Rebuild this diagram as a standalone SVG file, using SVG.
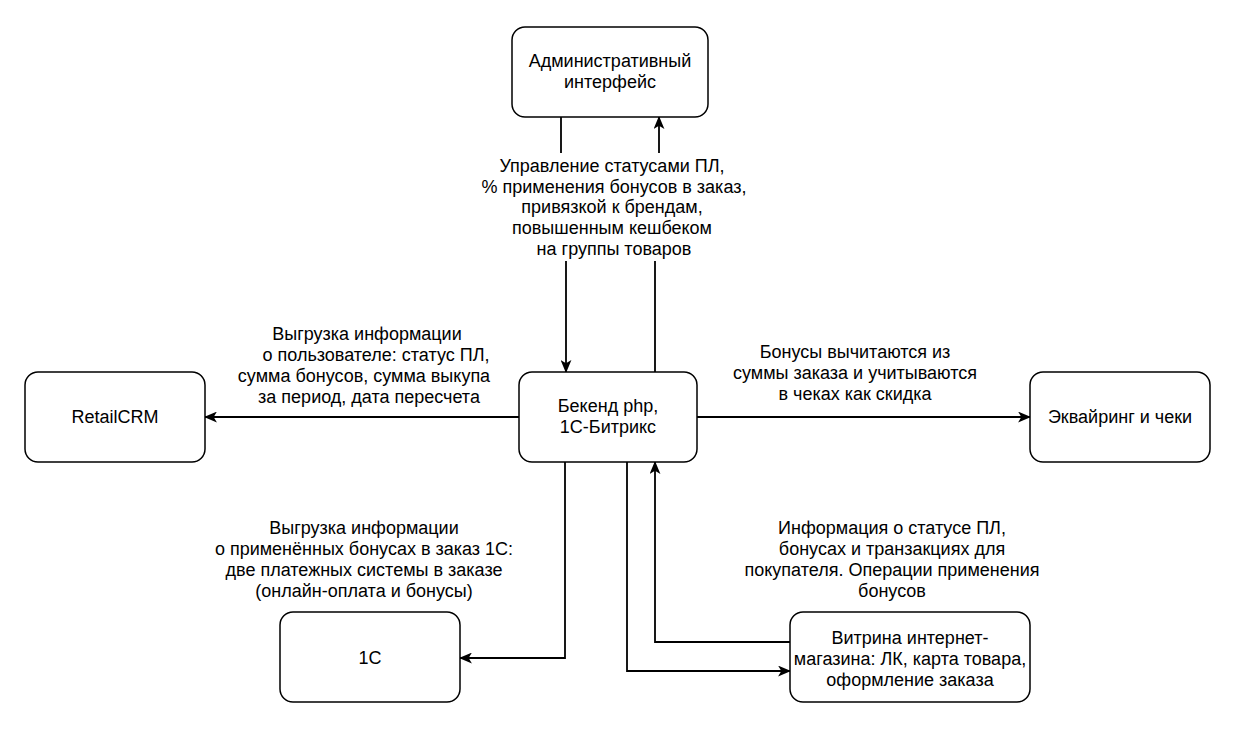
<svg xmlns="http://www.w3.org/2000/svg" width="1250" height="740" viewBox="0 0 1250 740">
<style>
.node{fill:#fff;stroke:#000;stroke-width:1.5}
.t{font-family:"Liberation Sans",Arial,sans-serif;font-size:18px;fill:#000;text-anchor:middle;dominant-baseline:central}
.e{fill:none;stroke:#000;stroke-width:1.8}
</style>
<defs>
<marker id="arr" viewBox="0 0 12 10" refX="11" refY="5" markerWidth="13" markerHeight="11" markerUnits="userSpaceOnUse" orient="auto">
<path d="M0,0 L12,5 L0,10 L3,5 Z" fill="#000"/>
</marker>
</defs>
<rect width="1250" height="740" fill="#fff"/>
<g id="connectors">
<path class="e" d="M561,117 V205 H566 V372" marker-end="url(#arr)"/>
<path class="e" d="M655,372 V205 H659 V117" marker-end="url(#arr)"/>
<path class="e" d="M519,417 H205" marker-end="url(#arr)"/>
<path class="e" d="M697,417 H1030" marker-end="url(#arr)"/>
<path class="e" d="M565,462 V658 H460" marker-end="url(#arr)"/>
<path class="e" d="M627,462 V671 H790" marker-end="url(#arr)"/>
<path class="e" d="M790,642 H655 V462" marker-end="url(#arr)"/>
<g id="label-admin">
<rect x="480" y="153" width="272" height="108" fill="#fff"/>
<text class="t" x="612" y="166">Управление статусами ПЛ,</text>
<text class="t" x="614" y="187">% применения бонусов в заказ,</text>
<text class="t" x="612" y="207">привязкой к брендам,</text>
<text class="t" x="612" y="228">повышенным кешбеком</text>
<text class="t" x="614" y="249">на группы товаров</text>
</g>
<g id="label-crm">
<text class="t" x="367" y="334">Выгрузка информации</text>
<text class="t" x="376" y="355">о пользователе: статус ПЛ,</text>
<text class="t" x="364" y="376">сумма бонусов, сумма выкупа</text>
<text class="t" x="369" y="397">за период, дата пересчета</text>
</g>
<g id="label-acq">
<text class="t" x="855" y="352">Бонусы вычитаются из</text>
<text class="t" x="855" y="373">суммы заказа и учитываются</text>
<text class="t" x="855" y="394">в чеках как скидка</text>
</g>
<g id="label-1c">
<text class="t" x="364" y="528">Выгрузка информации</text>
<text class="t" x="364" y="549">о применённых бонусах в заказ 1С:</text>
<text class="t" x="364" y="570">две платежных системы в заказе</text>
<text class="t" x="364" y="591">(онлайн-оплата и бонусы)</text>
</g>
<g id="label-shop">
<text class="t" x="892" y="528">Информация о статусе ПЛ,</text>
<text class="t" x="892" y="549">бонусах и транзакциях для</text>
<text class="t" x="892" y="570">покупателя. Операции применения</text>
<text class="t" x="892" y="591">бонусов</text>
</g>
</g>
<g id="admin">
<rect class="node" x="512" y="27" width="196" height="90" rx="13"/>
<text class="t" x="610" y="61">Административный</text>
<text class="t" x="610" y="82">интерфейс</text>
</g>
<g id="backend">
<rect class="node" x="519" y="372" width="178" height="90" rx="13"/>
<text class="t" x="608" y="406">Бекенд php,</text>
<text class="t" x="608" y="427">1С-Битрикс</text>
</g>
<g id="retailcrm">
<rect class="node" x="25" y="372" width="180" height="90" rx="13"/>
<text class="t" x="115" y="417">RetailCRM</text>
</g>
<g id="acquiring">
<rect class="node" x="1030" y="372" width="180" height="90" rx="13"/>
<text class="t" x="1120" y="417">Эквайринг и чеки</text>
</g>
<g id="onec">
<rect class="node" x="280" y="612" width="180" height="90" rx="13"/>
<text class="t" x="370" y="658">1С</text>
</g>
<g id="shop">
<rect class="node" x="790" y="612" width="240" height="90" rx="13"/>
<text class="t" x="910" y="638">Витрина интернет-</text>
<text class="t" x="910" y="659">магазина: ЛК, карта товара,</text>
<text class="t" x="910" y="680">оформление заказа</text>
</g>
</svg>
